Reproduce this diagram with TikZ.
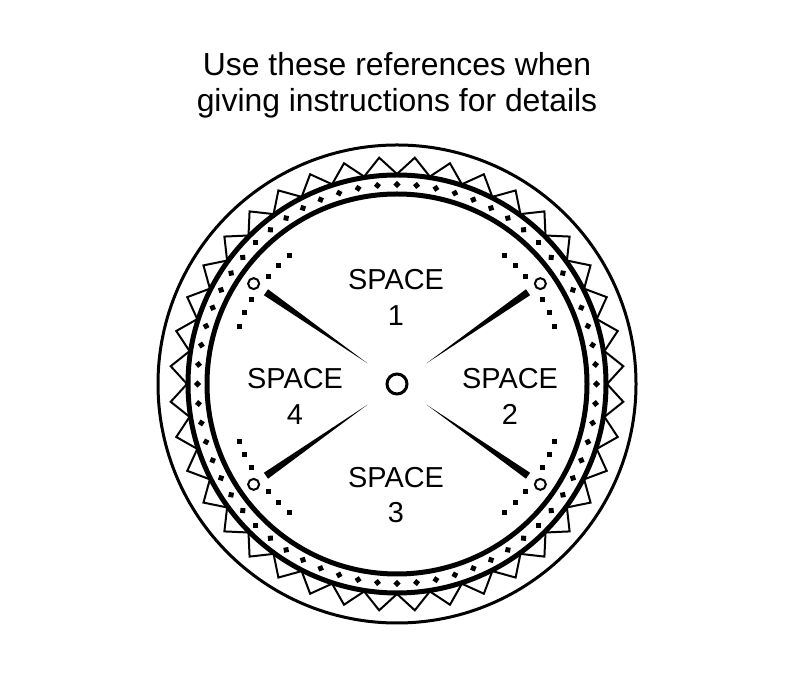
\documentclass[tikz,border=0pt]{standalone}
\usepackage{fontspec}
\setmainfont{Liberation Sans}
\begin{document}
\begin{tikzpicture}[x=1bp,y=1bp,
    ring_line/.style={line width=5bp},
    space_label/.style={align=center,font=\fontsize{29}{36}\selectfont},
    tiny_dot/.style={fill=black,minimum size=5bp,inner sep=0pt}]
    \useasboundingbox (0,0) rectangle (794,685);
    \node[align=center,font=\fontsize{32}{36}\selectfont] (title) at (397,600) {Use these references when\\giving instructions for details};
    \coordinate (c) at (397,301);
    \draw[line width=3bp] (c) circle (239);
    % zigzag of triangles
    \foreach \i in {0,...,39} {
      \pgfmathsetmacro{\a}{\i*9+4.5}
      \draw[line width=2bp,line join=miter] ([shift={(\a-4.5:210)}]c) -- ([shift={(\a:227)}]c) -- ([shift={(\a+4.5:210)}]c);
    }
    \draw[ring_line] (c) circle (209);
    \draw[ring_line] (c) circle (190);
    \foreach \i in {0,...,63}
      \node[tiny_dot,rotate=\i*5.625+45] at ([shift={(\i*5.625:199.5)}]c) {};
    \draw[line width=3bp] (c) circle (10);
    % spokes, small circles and dots
    \foreach \s in {35,145,215,325} {
      \fill ([shift={(\s:36)}]c) -- ([shift={(\s+1.3:160)}]c) -- ([shift={(\s-1.3:160)}]c) -- cycle;
      \draw[line width=2bp] ([shift={(\s:175)}]c) circle (5.5);
      \foreach \d in {-15,-10,-5,5,10,15}
        \node[tiny_dot] at ([shift={(\s+\d:168)}]c) {};
    }
    \node[space_label] (s1) at (396,388) {SPACE\\1};
    \node[space_label] (s2) at (510,289) {SPACE\\2};
    \node[space_label] (s3) at (396,190) {SPACE\\3};
    \node[space_label] (s4) at (295,289) {SPACE\\4};
\end{tikzpicture}
\end{document}
